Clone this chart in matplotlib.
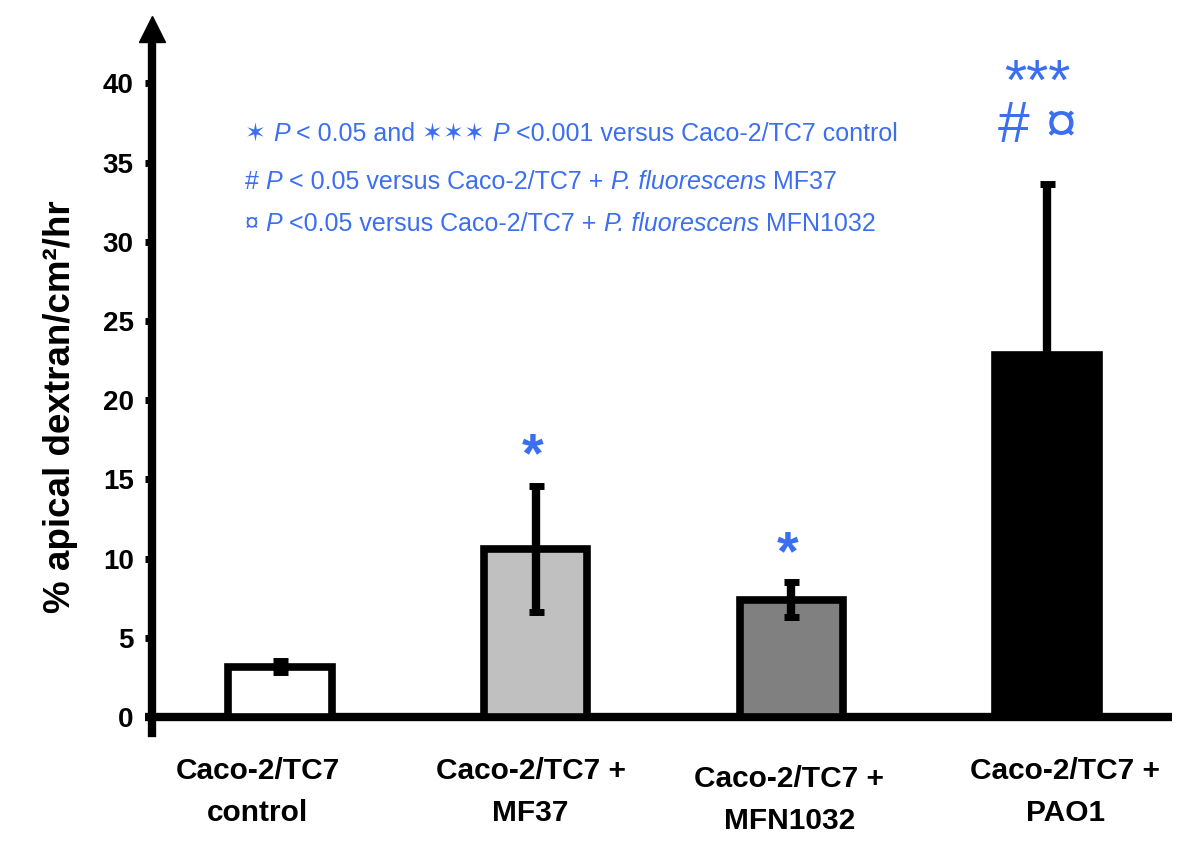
import numpy as np
import matplotlib.pyplot as plt
import matplotlib.transforms as mtransforms

plt.rcParams['font.family'] = ['Liberation Sans', 'DejaVu Sans']

groups = ['Caco-2/TC7\ncontrol', 'Caco-2/TC7 +\nMF37', 'Caco-2/TC7 +\nMFN1032', 'Caco-2/TC7 +\nPAO1']
means = [3.16, 10.6, 7.4, 22.85]
errors = [0.35, 4.0, 1.1, 10.8]
fills = ['white', '#c0c0c0', '#808080', 'black']
marks = ['', '*', '*', '***\n# ¤']
blue = '#3b6ef0'

# legend lines: (text, italic) pieces, joined with a space
legend_lines = [
    [('✶', False), ('P', True), ('< 0.05 and ✶✶✶', False), ('P', True),
     ('<0.001 versus Caco-2/TC7 control', False)],
    [('#', False), ('P', True), ('< 0.05 versus Caco-2/TC7 +', False),
     ('P. fluorescens', True), ('MF37', False)],
    [('¤', False), ('P', True), ('<0.05 versus Caco-2/TC7 +', False),
     ('P. fluorescens', True), ('MFN1032', False)],
]

fig = plt.figure(figsize=(12, 8.47), dpi=100)
ax = fig.add_axes([0.127, 0.1348, 0.8497, 0.8471])

x = np.arange(len(groups))
ax.bar(x, means, width=0.405, color=fills, edgecolor='black', linewidth=5.5, zorder=2)
ax.errorbar(x, means, yerr=errors, fmt='none', ecolor='black', elinewidth=6,
            capsize=5.4, capthick=5, zorder=3)

ax.set_xlim(-0.4986, 3.488)
ax.set_ylim(-1, 44.3)

# axes lines
for s in ['top', 'right', 'bottom']:
    ax.spines[s].set_visible(False)
ax.spines['left'].set_linewidth(6)
ax.spines['left'].set_bounds(-1, 43)
ax.axhline(0, xmin=-0.007, color='black', linewidth=6, zorder=1, clip_on=False,
           solid_capstyle='butt')
ax.plot([-0.4986], [43.45], marker='^', color='black', markersize=19,
        clip_on=False, zorder=4)

ax.set_yticks(np.arange(0, 41, 5))
ax.tick_params(axis='y', length=5.4, width=5, labelsize=20, pad=8)
for lab in ax.get_yticklabels():
    lab.set_fontweight('bold')
ax.set_xticks([])

trans = mtransforms.blended_transform_factory(ax.transAxes, ax.transData)
ax.text(-0.09, 19.6, '% apical dextran/cm²/hr', transform=trans, rotation=90,
        ha='center', va='center', fontsize=26.5, fontweight='bold')

# group labels
label_dx = [-0.086, -0.02, -0.008, 0.07]
label_y = [-2.53, -2.53, -3.03, -2.53]
for i, g in enumerate(groups):
    ax.text(i + label_dx[i], label_y[i], g, ha='center', va='top', fontsize=21.5,
            fontweight='bold', linespacing=1.62)

# significance marks
mark_dx = [0, -0.012, -0.016, -0.039]
mark_y = [0, 16.4, 10.2, 36.3]
for i, m in enumerate(marks):
    if not m:
        continue
    if '\n' in m:
        ax.text(i + mark_dx[i], mark_y[i], m, ha='center', va='baseline',
                fontsize=41, color=blue, linespacing=0.72)
    else:
        ax.text(i + mark_dx[i], mark_y[i], m, ha='center', va='center',
                fontsize=40, color=blue, fontweight='bold')

# legend text, built piece by piece
legend_y = [36.8, 33.8, 31.1]
for line, ly in zip(legend_lines, legend_y):
    prev = None
    for txt, ital in line:
        style = 'italic' if ital else 'normal'
        if prev is None:
            prev = ax.text(-0.137, ly, txt, ha='left', va='center', fontsize=18,
                           color=blue, style=style)
        else:
            prev = ax.annotate(txt, xy=(1, 0), xycoords=prev, xytext=(5, 0),
                               textcoords='offset points', ha='left', va='bottom',
                               fontsize=18, color=blue, style=style)

fig.savefig('out.png', dpi=100)
